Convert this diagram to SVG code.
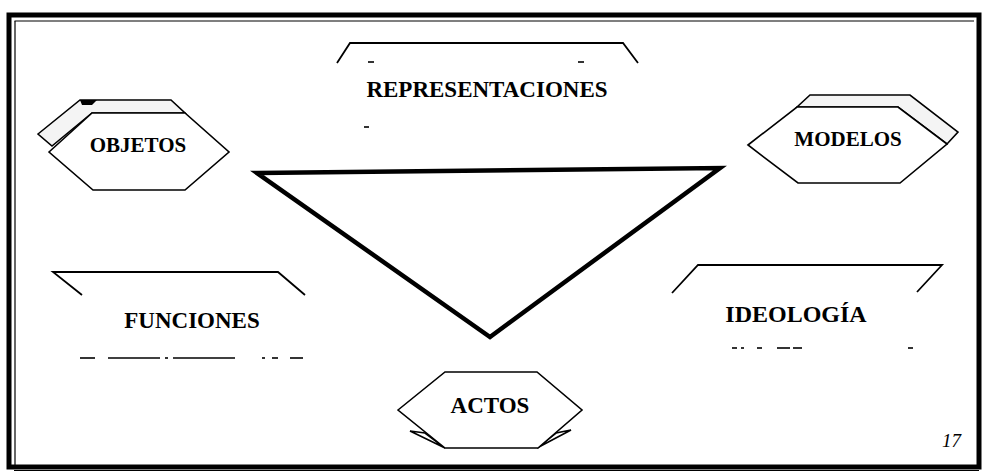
<svg xmlns="http://www.w3.org/2000/svg" width="983" height="473" viewBox="0 0 983 473">
  <style>
    .lbl { font-family: 'Liberation Serif', 'DejaVu Serif', serif; font-weight: bold; fill: #000; text-anchor: middle; }
    .num { font-family: 'Liberation Serif', 'DejaVu Serif', serif; font-style: italic; fill: #000; text-anchor: end; }
    .shape { fill: #fff; stroke: #000; stroke-width: 1.6; stroke-linejoin: miter; }
    .band { fill: #f4f4f4; stroke: #000; stroke-width: 1.6; }
    .open { fill: none; stroke: #000; stroke-width: 1.8; }
    .dash { stroke: #000; stroke-width: 1.6; }
  </style>
  <rect x="0" y="0" width="983" height="473" fill="#fff"/>

  <!-- frame -->
  <g id="frame">
    <rect x="9" y="15" width="970" height="452" fill="none" stroke="#000" stroke-width="5"/>
    <line x1="14.5" y1="21" x2="974" y2="21" stroke="#000" stroke-width="1.2"/>
    <line x1="15" y1="21" x2="15" y2="465" stroke="#000" stroke-width="1.2"/>
    <line x1="14" y1="470.5" x2="979" y2="470.5" stroke="#000" stroke-width="1.2"/>
  </g>

  <!-- central triangle -->
  <g id="triangle">
    <polygon points="257,173 720,168 490,337" fill="none" stroke="#000" stroke-width="4.5" stroke-linejoin="miter"/>
  </g>

  <g id="connectors"></g>

  <g id="representaciones">
    <path class="open" d="M337,63 L350,43 L623,43 L638,63"/>
    <line class="dash" x1="368" y1="62" x2="374" y2="62"/>
    <line class="dash" x1="578" y1="62" x2="584" y2="62"/>
    <line class="dash" x1="364" y1="127" x2="369" y2="127"/>
    <text class="lbl" x="487" y="97" font-size="23">REPRESENTACIONES</text>
  </g>

  <g id="objetos">
    <polygon class="band" points="38,134 80,100 171,100 185,113 92,113 52,146"/>
    <polygon points="80,100 97,100 92,105 82,105" fill="#000"/>
    <polygon class="shape" points="49,152 92,113 185,113 229,152 185,190 93,190"/>
    <text class="lbl" x="138" y="152" font-size="21">OBJETOS</text>
  </g>

  <g id="modelos">
    <polygon class="band" points="797,107 810,95 910,95 958,132 947,144 898,107"/>
    <polygon class="shape" points="748,145 797,107 898,107 947,144 900,183 798,183"/>
    <text class="lbl" x="848" y="146" font-size="21">MODELOS</text>
  </g>

  <g id="funciones">
    <path class="open" d="M82,295 L53,272 L278,272 L305,295"/>
    <g class="dash">
      <line x1="80" y1="358" x2="95" y2="358"/>
      <line x1="108" y1="358" x2="160" y2="358"/>
      <line x1="165" y1="358" x2="168" y2="358"/>
      <line x1="173" y1="358" x2="235" y2="358"/>
      <line x1="262" y1="358" x2="265" y2="358"/>
      <line x1="272" y1="358" x2="278" y2="358"/>
      <line x1="290" y1="358" x2="303" y2="358"/>
    </g>
    <text class="lbl" x="192" y="328" font-size="23">FUNCIONES</text>
  </g>

  <g id="ideologia">
    <path class="open" d="M672,293 L698,265 L942,265 L917,292"/>
    <g class="dash">
      <line x1="732" y1="348" x2="737" y2="348"/>
      <line x1="741" y1="348" x2="744" y2="348"/>
      <line x1="757" y1="348" x2="762" y2="348"/>
      <line x1="777" y1="348" x2="790" y2="348"/>
      <line x1="793" y1="348" x2="802" y2="348"/>
      <line x1="908" y1="348" x2="913" y2="348"/>
    </g>
    <text class="lbl" x="796" y="322" font-size="24">IDEOLOGÍA</text>
  </g>

  <g id="actos">
    <polygon class="shape" points="410,431 425,433 445,448"/>
    <polygon class="shape" points="571,430 556,433 537,448" fill="#000"/>
    <polygon class="shape" points="398,410 445,372 537,372 582,410 538,448 445,448"/>
    <text class="lbl" x="490" y="413" font-size="23">ACTOS</text>
  </g>

  <text class="num" x="961" y="447" font-size="19">17</text>
</svg>
